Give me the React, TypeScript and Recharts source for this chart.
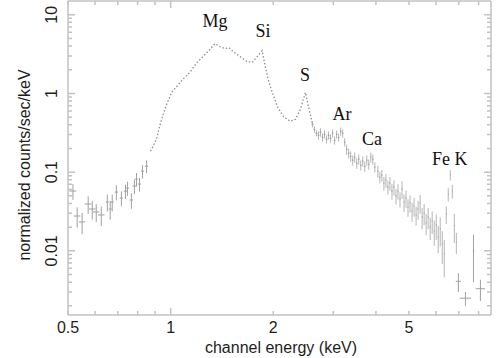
import { ComposedChart, Line, Scatter, ErrorBar, XAxis, YAxis, Label, ReferenceLine } from "recharts";

// soft end of the spectrum, plotted as crosses
const lowEnergy = [0.517, 0.532, 0.55, 0.573, 0.589, 0.605, 0.626, 0.652, 0.665, 0.674, 0.693, 0.717, 0.737, 0.747, 0.767, 0.783, 0.794, 0.81, 0.827, 0.85];
const lowCounts = [0.0575, 0.0277, 0.0233, 0.0394, 0.034, 0.0312, 0.0286, 0.0417, 0.034, 0.0417, 0.0558, 0.0469, 0.0575, 0.0627, 0.0442, 0.0665, 0.0815, 0.0705, 0.103, 0.119];
const lowEnergyErr = [0.012, 0.012, 0.012, 0.013, 0.013, 0.013, 0.014, 0.007, 0.007, 0.007, 0.008, 0.008, 0.008, 0.008, 0.009, 0.009, 0.009, 0.009, 0.009, 0.01];
const lowCountsErr = [0.013, 0.008, 0.007, 0.01, 0.009, 0.008, 0.008, 0.01, 0.009, 0.01, 0.012, 0.01, 0.012, 0.013, 0.01, 0.014, 0.016, 0.014, 0.02, 0.022];

// bright part (Mg, Si, S), dotted trace
const midEnergy = [0.873, 0.909, 0.928, 0.947, 0.973, 1.007, 1.041, 1.085, 1.138, 1.193, 1.243, 1.303, 1.348, 1.395, 1.443, 1.483, 1.524, 1.598, 1.676, 1.734, 1.794, 1.855, 1.894, 1.933, 1.986, 2.054, 2.14, 2.244, 2.322, 2.402, 2.485, 2.536, 2.606];
const midCounts = [0.185, 0.262, 0.382, 0.512, 0.726, 1.03, 1.226, 1.504, 1.845, 2.467, 2.94, 3.61, 4.29, 3.94, 3.71, 3.82, 3.4, 2.94, 2.54, 2.47, 2.94, 3.5, 2.2, 1.5, 1.03, 0.685, 0.512, 0.442, 0.469, 0.627, 1.03, 0.685, 0.405];

// Ar, Ca, continuum and Fe K, noisy channels with error bars
const bandEnergy = [
  2.606, 2.641, 2.677, 2.714, 2.751, 2.789, 2.827, 2.866, 2.905, 2.944, 2.985, 3.026, 3.067, 3.109, 3.152, 3.195,
  3.239, 3.283, 3.328, 3.373, 3.42, 3.466, 3.514, 3.562, 3.611, 3.66, 3.71, 3.761, 3.812, 3.864, 3.917, 3.971,
  4.053, 4.108, 4.164, 4.221, 4.279, 4.337, 4.397, 4.457, 4.518, 4.58, 4.642, 4.706, 4.77, 4.835, 4.901, 4.968,
  5.036, 5.105, 5.175, 5.246, 5.317, 5.39, 5.464, 5.538, 5.614, 5.691, 5.769, 5.848, 5.928, 6.009, 6.091, 6.174,
  6.259, 6.345, 6.431, 6.519, 6.609, 6.699, 6.791, 6.884,
];
const bandCounts = [
  0.405, 0.35, 0.312, 0.294, 0.321, 0.277, 0.303, 0.262, 0.294, 0.269, 0.312, 0.254, 0.303, 0.277, 0.33, 0.312,
  0.24, 0.195, 0.174, 0.159, 0.142, 0.155, 0.13, 0.146, 0.123, 0.138, 0.119, 0.142, 0.126, 0.155, 0.146, 0.116,
  0.103, 0.0865, 0.0916, 0.0726, 0.0792, 0.0646, 0.0726, 0.0575, 0.0646, 0.0497, 0.0575, 0.0455, 0.0609, 0.0417, 0.0469, 0.0361,
  0.0405, 0.0321, 0.0371, 0.0286, 0.034, 0.0405, 0.0269, 0.0303, 0.0226, 0.0269, 0.0201, 0.024, 0.0179, 0.0213, 0.015, 0.019,
  0.0123, 0.0092, 0.0294, 0.0527, 0.092, 0.0575, 0.021, 0.013,
];
const bandCountsErr = [
  0.036, 0.032, 0.028, 0.035, 0.039, 0.033, 0.036, 0.031, 0.035, 0.032, 0.037, 0.03, 0.036, 0.033, 0.04, 0.037,
  0.029, 0.029, 0.026, 0.024, 0.021, 0.023, 0.02, 0.022, 0.018, 0.021, 0.018, 0.021, 0.019, 0.023, 0.022, 0.017,
  0.0175, 0.0147, 0.0156, 0.0145, 0.0158, 0.0129, 0.0145, 0.0127, 0.0142, 0.0109, 0.0127, 0.01, 0.0152, 0.0104, 0.0117, 0.009,
  0.0101, 0.0087, 0.01, 0.0077, 0.0092, 0.0109, 0.0081, 0.0091, 0.0068, 0.0081, 0.0064, 0.0077, 0.0063, 0.0075, 0.0057, 0.0076,
  0.0055, 0.0046, 0.0074, 0.0105, 0.0138, 0.0115, 0.0084, 0.0039,
];
const bandChannelHalfWidth = 0.015;

// last few wide bins above the iron line
const tailEnergy = [6.98, 7.32, 7.73, 8.1];
const tailCounts = [0.0041, 0.0025, 0.01, 0.0033];
const tailEnergyErr = [0.12, 0.28, 0.04, 0.25];
const tailCountsErr = [0.0011, 0.0005, 0.006, 0.001];

// emission line names, placed just above each feature
const lineNames = ["Mg", "Si", "S", "Ar", "Ca", "Fe K"];
const lineEnergy = [1.349, 1.865, 2.476, 3.179, 3.894, 6.59];
const lineCounts = [6.93, 5.18, 1.428, 0.456, 0.219, 0.122];

// ticks: every log tick gets a mark on both sides, only some get a number
const xAllTicks = [0.5, 0.6, 0.7, 0.8, 0.9, 1, 2, 3, 4, 5, 6, 7, 8];
const xLabelTicks = [0.5, 1, 2, 5];
const xDecadeTicks = [1];
const yAllTicks = [
  0.002, 0.003, 0.004, 0.005, 0.006, 0.007, 0.008, 0.009, 0.01,
  0.02, 0.03, 0.04, 0.05, 0.06, 0.07, 0.08, 0.09, 0.1,
  0.2, 0.3, 0.4, 0.5, 0.6, 0.7, 0.8, 0.9, 1,
  2, 3, 4, 5, 6, 7, 8, 9, 10,
];
const yLabelTicks = [0.01, 0.1, 1, 10];

const X_DOMAIN = [0.5, 8.7];
const Y_DOMAIN = [0.00153, 14.95];

const lowData = lowEnergy.map((e, i) => ({ e, c: lowCounts[i], xErr: lowEnergyErr[i], yErr: lowCountsErr[i] }));
const midData = midEnergy.map((e, i) => ({ e, c: midCounts[i] }));
const bandData = bandEnergy.map((e, i) => ({ e, c: bandCounts[i], xErr: bandChannelHalfWidth, yErr: bandCountsErr[i] }));
const tailData = tailEnergy.map((e, i) => ({ e, c: tailCounts[i], xErr: tailEnergyErr[i], yErr: tailCountsErr[i] }));
const lineLabelData = lineNames.map((name, i) => ({ name, e: lineEnergy[i], c: lineCounts[i] }));

const WIDTH = 500;
const HEIGHT = 358;
const MARGIN = { top: 1, right: 9, bottom: 0, left: 0 };
const PLOT_TOP = MARGIN.top;
const PLOT_RIGHT = WIDTH - MARGIN.right;

const FRAME = "#c2c2c2";
const FRAME_W = 1.5;
const DATA = "#8f8f8f";
const TEXT = "#1e1e1e";
const SANS = '"Liberation Sans", Arial, Helvetica, sans-serif';
const SERIF = '"Liberation Serif", "Times New Roman", serif';

const noPoint = () => <g />;

// bottom axis tick: inward mark at the bottom and the matching one on the top frame
function XTick({ x, y, payload }: any) {
  const v = Number(payload.value);
  const len = xDecadeTicks.includes(v) ? 7 : 4;
  const bottom = Number(y);
  return (
    <g>
      <path d={`M${x},${bottom}V${bottom - len}M${x},${PLOT_TOP}V${PLOT_TOP + len}`} stroke={FRAME} strokeWidth={FRAME_W} fill="none" />
      {xLabelTicks.includes(v) && (
        <text x={x} y={bottom + 18} textAnchor="middle" fontSize={16} fontFamily={SANS} fill={TEXT}>
          {v}
        </text>
      )}
    </g>
  );
}

// left axis tick: inward marks left and right, rotated numbers at decades
function YTick({ x, y, payload }: any) {
  const v = Number(payload.value);
  const len = yLabelTicks.includes(v) ? 7 : 4;
  const left = Number(x);
  const bx = left - 11;
  return (
    <g>
      <path d={`M${left},${y}H${left + len}M${PLOT_RIGHT},${y}H${PLOT_RIGHT - len}`} stroke={FRAME} strokeWidth={FRAME_W} fill="none" />
      {yLabelTicks.includes(v) && (
        <text x={bx} y={y} transform={`rotate(-90 ${bx} ${y})`} textAnchor="middle" fontSize={16} fontFamily={SANS} fill={TEXT}>
          {v}
        </text>
      )}
    </g>
  );
}

function LineName(props: any) {
  const { cx, cy, payload } = props;
  return (
    <text x={cx} y={cy} textAnchor="middle" fontSize={18} fontFamily={SERIF} fill="#111">
      {payload.name}
    </text>
  );
}

export default function App() {
  return (
    <div style={{ position: "absolute", left: 0, top: 0, background: "#fff" }}>
      <ComposedChart width={WIDTH} height={HEIGHT} margin={MARGIN}>
        <XAxis
          xAxisId="x"
          dataKey="e"
          type="number"
          scale="log"
          domain={X_DOMAIN}
          allowDataOverflow
          ticks={xAllTicks}
          interval={0}
          height={43}
          tickSize={0}
          tickMargin={0}
          tickLine={false}
          axisLine={{ stroke: FRAME, strokeWidth: FRAME_W }}
          tick={XTick}
        >
          <Label
            content={() => (
              <text x={281} y={353} textAnchor="middle" fontSize={16} fontFamily={SANS} fill={TEXT}>
                channel energy (keV)
              </text>
            )}
          />
        </XAxis>
        <YAxis
          yAxisId="y"
          dataKey="c"
          type="number"
          scale="log"
          domain={Y_DOMAIN}
          allowDataOverflow
          ticks={yAllTicks}
          interval={0}
          width={68}
          tickSize={0}
          tickMargin={0}
          tickLine={false}
          axisLine={{ stroke: FRAME, strokeWidth: FRAME_W }}
          tick={YTick}
        >
          <Label
            content={() => (
              <text x={30} y={165} transform="rotate(-90 30 165)" textAnchor="middle" fontSize={16} fontFamily={SANS} fill={TEXT}>
                normalized counts/sec/keV
              </text>
            )}
          />
        </YAxis>

        {/* top and right edges of the frame */}
        <ReferenceLine xAxisId="x" yAxisId="y" y={Y_DOMAIN[1]} ifOverflow="visible" stroke={FRAME} strokeWidth={FRAME_W} />
        <ReferenceLine xAxisId="x" yAxisId="y" x={X_DOMAIN[1]} ifOverflow="visible" stroke={FRAME} strokeWidth={FRAME_W} />

        <Scatter data={lowData} xAxisId="x" yAxisId="y" dataKey="c" shape={noPoint} isAnimationActive={false}>
          <ErrorBar dataKey="xErr" direction="x" width={0} stroke="#a0a0a0" strokeWidth={1} />
          <ErrorBar dataKey="yErr" direction="y" width={0} stroke="#a0a0a0" strokeWidth={1} />
        </Scatter>
        <Line
          data={midData}
          xAxisId="x"
          yAxisId="y"
          dataKey="c"
          type="linear"
          dot={false}
          stroke={DATA}
          strokeWidth={1.3}
          strokeDasharray="1.5 2"
          isAnimationActive={false}
        />
        <Scatter data={bandData} xAxisId="x" yAxisId="y" dataKey="c" shape={noPoint} isAnimationActive={false}>
          <ErrorBar dataKey="xErr" direction="x" width={0} stroke="#808080" strokeWidth={1} />
          <ErrorBar dataKey="yErr" direction="y" width={0} stroke="#9c9c9c" strokeOpacity={0.75} strokeWidth={1} />
        </Scatter>
        <Scatter data={tailData} xAxisId="x" yAxisId="y" dataKey="c" shape={noPoint} isAnimationActive={false}>
          <ErrorBar dataKey="xErr" direction="x" width={0} stroke="#a0a0a0" strokeWidth={1} />
          <ErrorBar dataKey="yErr" direction="y" width={0} stroke="#a0a0a0" strokeWidth={1} />
        </Scatter>
        <Scatter data={lineLabelData} xAxisId="x" yAxisId="y" dataKey="c" shape={LineName} isAnimationActive={false} />
      </ComposedChart>
    </div>
  );
}
